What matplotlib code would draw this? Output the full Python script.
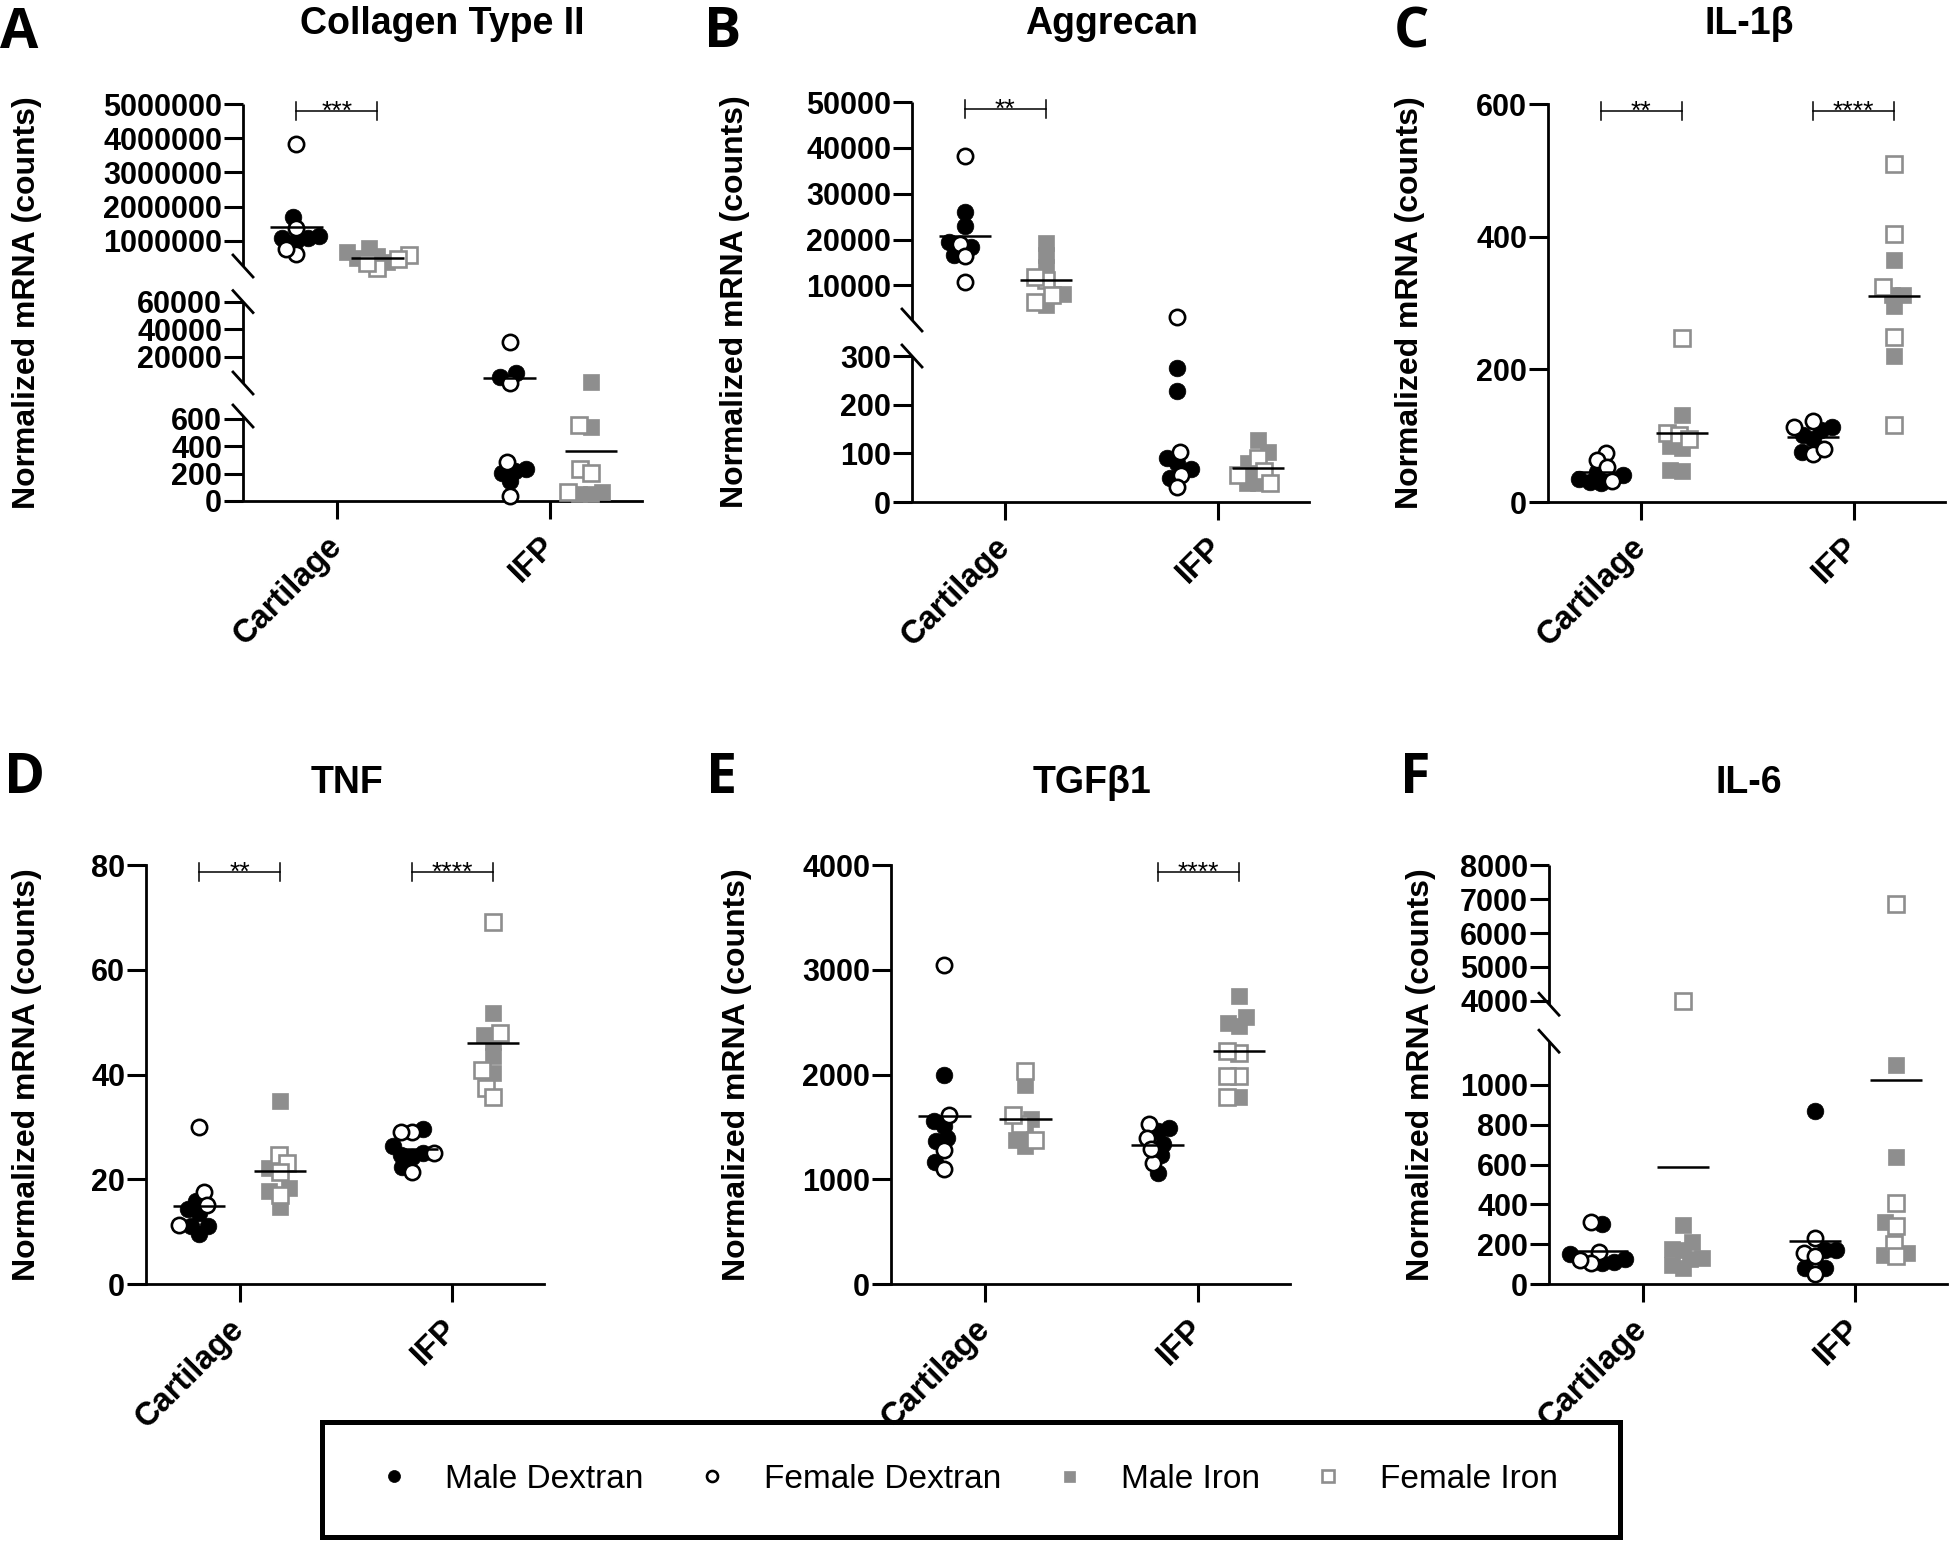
import numpy as np
import matplotlib
matplotlib.use('Agg')
import matplotlib.pyplot as plt
from matplotlib import transforms
from matplotlib.lines import Line2D
from matplotlib.patches import Rectangle

plt.rcParams['font.family'] = 'Liberation Sans'

FIG_W, FIG_H = 1950, 1542
GRAY = '#8e8e8e'

categories = ['Cartilage', 'IFP']
series_labels = ['Male Dextran', 'Female Dextran', 'Male Iron', 'Female Iron']
ylabel = 'Normalized mRNA (counts)'

# every series is [cartilage values, IFP values]
col2_male_dex = [[1690000, 1080000, 1080000, 1150000, 1000000], [8060, 5070, 205, 235, 220, 144]]
col2_female_dex = [[3840000, 1370000, 620000, 770000], [30780, 900, 281, 38]]
col2_male_iron = [[800000, 680000, 560000, 370000, 500000], [1500, 540, 68, 53, 53]]
col2_female_iron = [[590000, 470000, 250000, 350000], [554, 235, 204, 68]]
col2_ticks = [0, 200, 400, 600, 20000, 40000, 60000, 1000000, 2000000, 3000000, 4000000, 5000000]

acan_male_dex = [[25900, 22900, 18450, 19540, 16550], [276, 228, 80, 90, 68, 49]]
acan_female_dex = [[38200, 19100, 16360, 10740], [3000, 103, 55, 31]]
acan_male_iron = [[19280, 16640, 14100, 8180, 5630], [128, 103, 81, 60, 39, 39]]
acan_female_iron = [[11180, 11830, 6370, 7800], [90, 64, 39, 55]]
acan_ticks = [0, 100, 200, 300, 10000, 20000, 30000, 40000, 50000]

il1b_male_dex = [[35, 29, 30, 40, 45], [113, 101, 75, 95, 108]]
il1b_female_dex = [[74, 63, 53, 32], [122, 113, 72, 80]]
il1b_male_iron = [[131, 85, 82, 47, 48], [365, 312, 312, 295, 220]]
il1b_female_iron = [[247, 104, 101, 95], [510, 404, 324, 249, 116]]
il1b_ticks = [0, 200, 400, 600]

tnf_male_dex = [[15.9, 13.5, 9.6, 11.1, 11.1, 14.3], [29.6, 25.1, 26.3, 24.7, 22.3, 24.3]]
tnf_female_dex = [[30, 17.6, 11.3, 15.1], [29.1, 29.1, 21.3, 25.1]]
tnf_male_iron = [[35, 22.1, 17.7, 14.7, 18.3], [51.8, 47.6, 46.2, 43.6, 40.2]]
tnf_female_iron = [[24.7, 23.1, 21.3, 16.9], [69.1, 47.9, 40.8, 37.4, 35.7]]
tnf_ticks = [0, 20, 40, 60, 80]

tgfb_male_dex = [[1998, 1512, 1552, 1393, 1361, 1162], [1465, 1493, 1341, 1234, 1055]]
tgfb_female_dex = [[3045, 1612, 1282, 1095], [1532, 1393, 1154, 1290]]
tgfb_male_iron = [[1902, 1572, 1313, 1373, 1433], [2754, 2488, 2547, 2460, 1783]]
tgfb_female_iron = [[2030, 1532, 1612, 1373], [2209, 2229, 1982, 1990, 1783]]
tgfb_ticks = [0, 1000, 2000, 3000, 4000]

il6_male_dex = [[303, 150, 105, 126, 110], [868, 172, 172, 80, 80]]
il6_female_dex = [[314, 160, 105, 120], [230, 157, 52, 140]]
il6_male_iron = [[297, 209, 172, 178, 94, 126, 80, 130], [1102, 638, 314, 157, 146]]
il6_female_iron = [[4000], [6855, 408, 293, 199, 142]]
il6_ticks = [0, 200, 400, 600, 800, 1000, 4000, 5000, 6000, 7000, 8000]

# axis segments: pairs of (value, height in px) knots, one pair per unbroken piece
panels = [
    dict(letter='A', title='Collagen Type II',
         series=(col2_male_dex, col2_female_dex, col2_male_iron, col2_female_iron), ticks=col2_ticks,
         knots=[(0, 0), (620, 85), (700, 118), (60000, 199.4), (263000, 235), (5000000, 397)],
         stars=['***', ''], rect=(243, 501, 399, 397), ylab_x=-0.541, title_pos=(442, 34), letter_pos=(0, 48)),
    dict(letter='B', title='Aggrecan',
         series=(acan_male_dex, acan_female_dex, acan_male_iron, acan_female_iron), ticks=acan_ticks,
         knots=[(0, 0), (300, 146), (2450, 182), (50000, 400)],
         stars=['**', ''], rect=(912, 502, 397, 400), ylab_x=-0.446, title_pos=(1112, 34), letter_pos=(704, 47)),
    dict(letter='C', title='IL-1\u03b2',
         series=(il1b_male_dex, il1b_female_dex, il1b_male_iron, il1b_female_iron), ticks=il1b_ticks,
         knots=[(0, 0), (600, 398)],
         stars=['**', '****'], rect=(1548, 502, 397, 398), ylab_x=-0.348, title_pos=(1749, 34), letter_pos=(1394, 47)),
    dict(letter='D', title='TNF',
         series=(tnf_male_dex, tnf_female_dex, tnf_male_iron, tnf_female_iron), ticks=tnf_ticks,
         knots=[(0, 0), (80, 419)],
         stars=['**', '****'], rect=(146, 1284, 398, 419), ylab_x=-0.299, title_pos=(347, 793), letter_pos=(4, 793)),
    dict(letter='E', title='TGF\u03b21',
         series=(tgfb_male_dex, tgfb_female_dex, tgfb_male_iron, tgfb_female_iron), ticks=tgfb_ticks,
         knots=[(0, 0), (4000, 419)],
         stars=['', '****'], rect=(891, 1284, 399, 419), ylab_x=-0.385, title_pos=(1092, 793), letter_pos=(706, 793)),
    dict(letter='F', title='IL-6',
         series=(il6_male_dex, il6_female_dex, il6_male_iron, il6_female_iron), ticks=il6_ticks,
         knots=[(0, 0), (1220, 242.8), (3900, 279.8), (8000, 418.6)],
         stars=['', ''], rect=(1549, 1284, 398, 418.6), ylab_x=-0.322, title_pos=(1749, 793), letter_pos=(1400, 793)),
]

styles = [
    dict(marker='o', ms=12, mfc='black', mec='black', mew=0.5),
    dict(marker='o', ms=11, mfc='white', mec='black', mew=1.9),
    dict(marker='s', ms=11, mfc=GRAY, mec=GRAY, mew=0.5),
    dict(marker='s', ms=11.5, mfc='white', mec=GRAY, mew=1.9),
]

XLIM = (-0.44, 1.43)
GROUP_OFF = 0.19


def piecewise(xk, yk):
    xk = np.asarray(xk, float)
    yk = np.asarray(yk, float)
    s0 = (yk[1] - yk[0]) / (xk[1] - xk[0])
    s1 = (yk[-1] - yk[-2]) / (xk[-1] - xk[-2])

    def f(v):
        v = np.asarray(v, float)
        out = np.interp(v, xk, yk)
        out = np.where(v < xk[0], yk[0] + (v - xk[0]) * s0, out)
        out = np.where(v > xk[-1], yk[-1] + (v - xk[-1]) * s1, out)
        return out
    return f


def swarm(ypix, d):
    xs = np.zeros(len(ypix))
    placed = []
    for i in np.argsort(ypix, kind='stable'):
        y = ypix[i]
        cands = [0.0]
        for px, py in placed:
            dy = y - py
            if abs(dy) < d:
                dx = np.sqrt(d * d - dy * dy)
                cands += [px - dx, px + dx]
        cands.sort(key=lambda c: (abs(c), c))
        for c in cands:
            if all((c - px) ** 2 + (y - py) ** 2 >= d * d - 1e-6 for px, py in placed):
                xs[i] = c
                break
        placed.append((xs[i], y))
    return xs


def draw_panel(fig, p):
    left, bottom, w, h = p['rect']
    ax = fig.add_axes([left / FIG_W, 1 - bottom / FIG_H, w / FIG_W, h / FIG_H])
    kv = [k[0] for k in p['knots']]
    kh = [k[1] for k in p['knots']]
    segs = list(zip(kv[0::2], kv[1::2]))
    ax.set_yscale('function', functions=(piecewise(kv, kh), piecewise(kh, kv)))
    ax.set_ylim(0, kv[-1])
    ax.set_xlim(*XLIM)
    px_per_unit = w / (XLIM[1] - XLIM[0])

    for ci in range(len(categories)):
        for t in range(2):
            center = ci + (2 * t - 1) * GROUP_OFF
            male = p['series'][2 * t][ci]
            female = p['series'][2 * t + 1][ci]
            vals = np.array(male + female, float)
            ypix = ax.transData.transform(np.column_stack([np.zeros(len(vals)), vals]))[:, 1]
            xs = center + swarm(ypix, 11.5) / px_per_unit
            n = len(male)
            ax.plot(xs[:n], vals[:n], ls='none', zorder=3, clip_on=False, **styles[2 * t])
            ax.plot(xs[n:], vals[n:], ls='none', zorder=3, clip_on=False, **styles[2 * t + 1])
            m = vals.mean()
            if any(lo <= m <= hi for lo, hi in segs):
                ax.plot([center - 0.123, center + 0.123], [m, m], color='black', lw=1.8,
                        solid_capstyle='butt', zorder=4)

    # significance brackets
    bt = transforms.blended_transform_factory(ax.transData, ax.transAxes)
    yb = 0.983
    tk = 9 / h
    for ci, s in enumerate(p['stars']):
        if not s:
            continue
        x1, x2 = ci - GROUP_OFF, ci + GROUP_OFF
        ax.plot([x1, x2], [yb, yb], transform=bt, color='black', lw=1.1, clip_on=False)
        for xx in (x1, x2):
            ax.plot([xx, xx], [yb - tk, yb + tk], transform=bt, color='black', lw=1.1, clip_on=False)
        ax.annotate(s, xy=(ci, yb), xycoords=bt, xytext=(0, -5.8), textcoords='offset points',
                    ha='center', va='baseline', fontsize=19)

    # axes styling
    for side in ('top', 'right'):
        ax.spines[side].set_visible(False)
    ax.spines['bottom'].set_linewidth(2)
    ax.spines['left'].set_linewidth(2)
    if len(segs) > 1:
        ax.spines['left'].set_visible(False)
        st = transforms.blended_transform_factory(ax.transAxes, ax.transData)
        for k, (lo, hi) in enumerate(segs):
            ax.plot([0, 0], [lo, hi], transform=st, color='black', lw=2, clip_on=False,
                    solid_capstyle='butt')
            ends = []
            if k > 0:
                ends.append(lo)
            if k < len(segs) - 1:
                ends.append(hi)
            for v in ends:
                tr = fig.dpi_scale_trans + transforms.ScaledTranslation(0, v, st)
                ax.add_line(Line2D([-0.10, 0.10], [0.11, -0.11], transform=tr, color='black',
                                   lw=2, clip_on=False))

    ax.set_yticks(p['ticks'])
    ax.set_yticklabels([str(int(v)) for v in p['ticks']], fontsize=22, fontweight='bold')
    ax.tick_params(axis='y', length=14, width=2.2, pad=1)
    ax.set_xticks(range(len(categories)))
    ax.set_xticklabels(categories, rotation=45, ha='right', va='center', rotation_mode='anchor',
                       fontsize=23.5, fontweight='bold')
    ax.tick_params(axis='x', length=13, width=2.2, pad=16)
    ax.set_ylabel(ylabel, fontsize=23, fontweight='bold', va='center')
    ax.yaxis.set_label_coords(p['ylab_x'], 0.5)

    tx, ty = p['title_pos']
    fig.text(tx / FIG_W, 1 - ty / FIG_H, p['title'], ha='center', va='baseline',
             fontsize=27, fontweight='bold')
    lx, ly = p['letter_pos']
    fig.text(lx / FIG_W, 1 - ly / FIG_H, p['letter'], ha='left', va='baseline',
             fontsize=40, fontweight='bold', family='Open Sans')
    return ax


fig = plt.figure(figsize=(FIG_W / 100, FIG_H / 100), dpi=100)
for p in panels:
    draw_panel(fig, p)

# legend: frame drawn as its own box, entries spread across it
fig.patches.append(Rectangle((322 / FIG_W, 1 - 1537 / FIG_H), 1298 / FIG_W, 115 / FIG_H,
                             transform=fig.transFigure, fill=False, lw=3.6, ec='black'))
handles = [Line2D([], [], ls='none', marker=st['marker'], mfc=st['mfc'], mec=st['mec'],
                  mew=st['mew'], ms=st['ms'] * 0.72) for st in styles]
fig.legend(handles, series_labels, loc='center', ncol=4, mode='expand',
           bbox_to_anchor=(377 / FIG_W, 1 - 1537 / FIG_H, 1181 / FIG_W, 115 / FIG_H),
           fontsize=24, frameon=False, borderpad=0, handlelength=1.0, handletextpad=1.05,
           borderaxespad=0)

fig.savefig('out.png', dpi=100)
